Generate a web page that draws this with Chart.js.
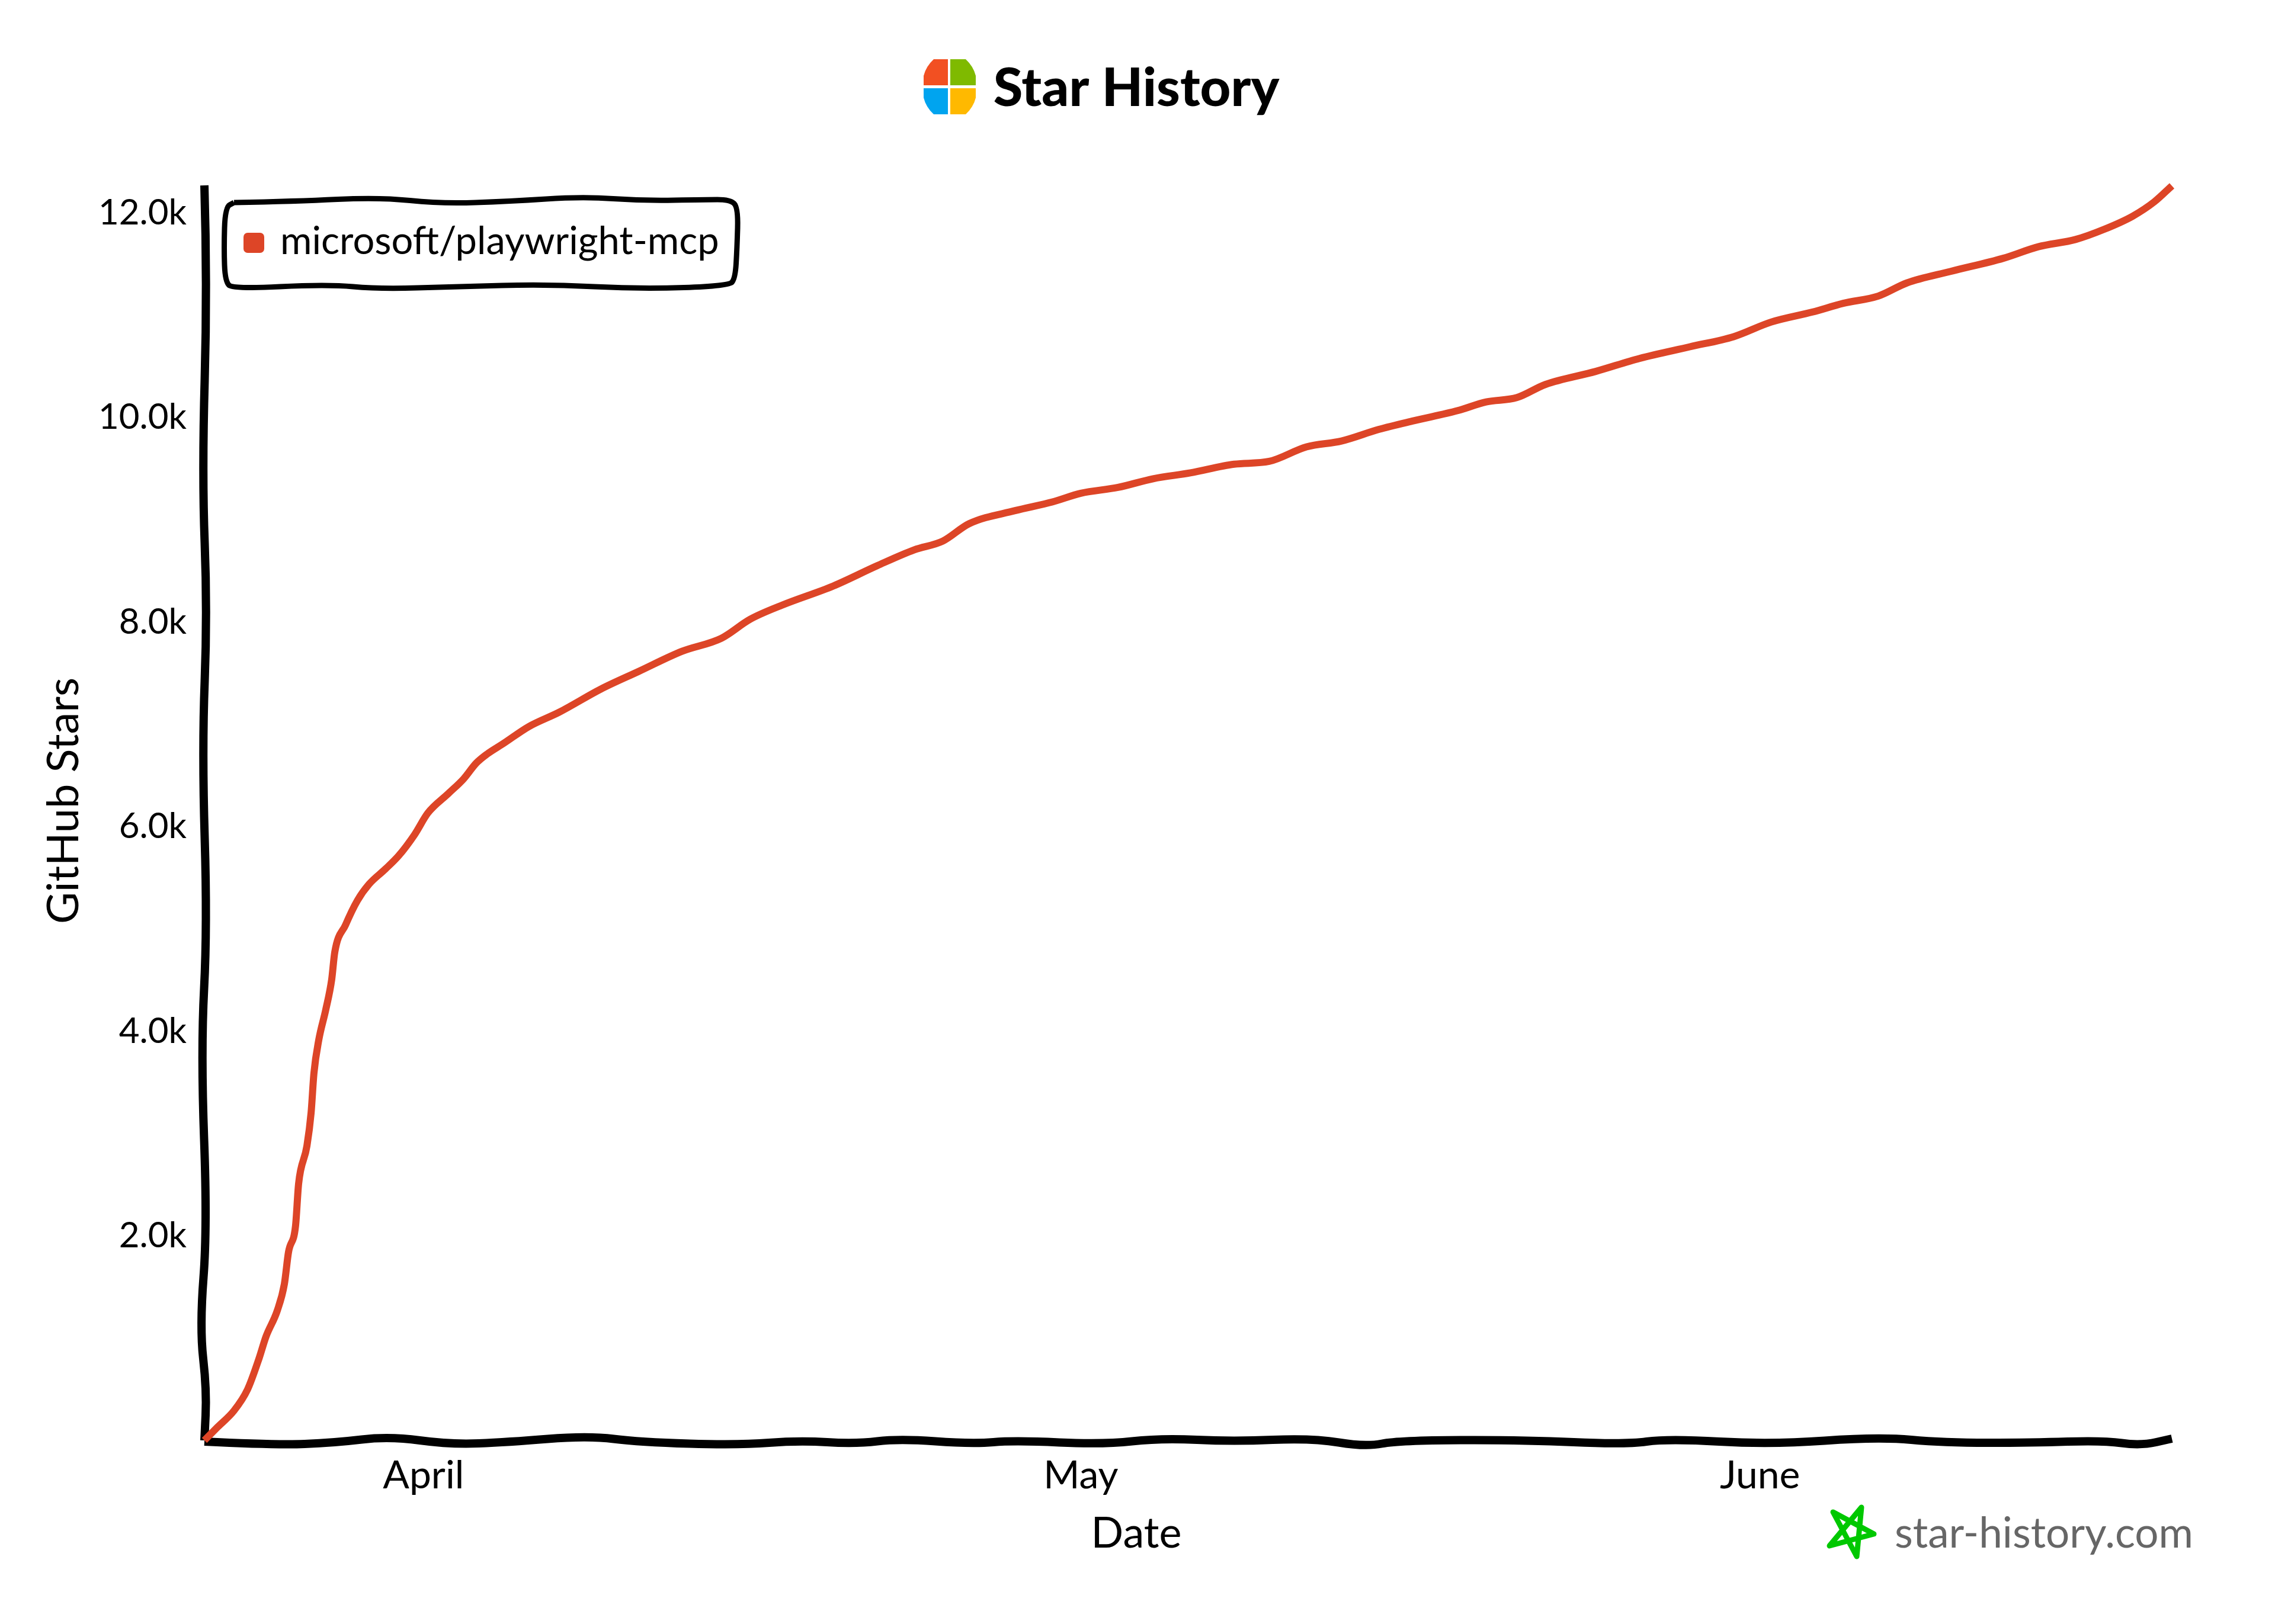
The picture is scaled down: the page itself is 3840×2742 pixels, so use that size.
<!DOCTYPE html>
<html>
<head>
<meta charset="utf-8">
<title>Star History</title>
<script src="https://cdn.jsdelivr.net/npm/chart.js@4/dist/chart.umd.min.js"></script>
<style>
  html, body { margin: 0; padding: 0; background: #fff; }
  canvas { display: block; }
</style>
</head>
<body>
<canvas id="starChart" width="3840" height="2742"></canvas>
<script>
// days since Mar 22
const days = [0, 0.6, 1.35, 1.97, 2.5, 2.81, 3.33, 3.65, 3.84, 4.16, 4.3, 4.68, 4.87, 5.0, 5.22, 5.54, 5.81, 5.95,
  6.44, 6.98, 7.52, 8.25, 8.87, 9.6, 10.2, 11.14, 11.84, 12.4, 12.9, 13.66, 14.8, 16.2, 18.1, 19.8, 21.8, 23.6, 24.9,
  26.4, 28.7, 30.7, 32.4, 33.7, 34.9, 37.0, 38.7, 40.0, 41.7, 43.3, 45.0, 47.0, 48.6, 50.3, 51.9, 53.6, 55.2, 57.2,
  58.5, 59.9, 61.2, 63.5, 65.5, 67.8, 69.8, 71.5, 73.4, 74.8, 76.4, 77.7, 79.7, 82.1, 83.7, 85.4, 86.7, 88.0, 89.0, 89.8];
const stars = [0, 130, 290, 498, 805, 1014, 1271, 1529, 1842, 2097, 2510, 2879, 3203, 3591, 3915, 4211, 4506, 4773,
  5039, 5277, 5439, 5584, 5717, 5925, 6134, 6325, 6470, 6620, 6710, 6815, 6978, 7120, 7346, 7516, 7715, 7843, 8027,
  8169, 8353, 8551, 8707, 8792, 8962, 9090, 9175, 9260, 9317, 9402, 9459, 9544, 9572, 9714, 9771, 9884, 9969, 10068,
  10153, 10195, 10323, 10451, 10578, 10692, 10791, 10933, 11032, 11117, 11188, 11316, 11429, 11557, 11670, 11741, 11840, 11968, 12110, 12266];

const seriesName = "microsoft/playwright-mcp";
const monthDays = [10, 40, 71];
const monthLabels = ["April", "May", "June"];
const starTicks = [2000, 4000, 6000, 8000, 10000, 12000];

const handFont = "Lato";
const RED = "#dd4527";

// draws a smooth wobbly path through the given points
function wobble(ctx, pts) {
    ctx.beginPath();
    ctx.moveTo(pts[0][0], pts[0][1]);
    for (let i = 1; i < pts.length - 1; i++) {
        const mx = (pts[i][0] + pts[i + 1][0]) / 2;
        const my = (pts[i][1] + pts[i + 1][1]) / 2;
        ctx.quadraticCurveTo(pts[i][0], pts[i][1], mx, my);
    }
    const last = pts[pts.length - 1];
    ctx.lineTo(last[0], last[1]);
    ctx.stroke();
}

const sketchAxes = {
    id: "sketchAxes",
    beforeDatasetsDraw(chart) {
        const ctx = chart.ctx;
        const a = chart.chartArea;
        ctx.save();
        ctx.strokeStyle = "#000";
        ctx.lineWidth = 14;
        ctx.lineCap = "butt";
        ctx.lineJoin = "round";

        const leftWiggle = [[0, 0], [.08, 5], [.23, -4], [.34, 5], [.45, -4], [.59, 5], [.69, -6], [.83, 5], [.91, -8], [.96, 4], [1, 0]];
        wobble(ctx, leftWiggle.map(p => [a.left + p[1], a.top + p[0] * (a.bottom - a.top)]));

        const baseWiggle = [[0, 2], [.036, 8], [.066, 4], [.094, -7], [.125, 7], [.154, 3], [.195, -8], [.221, 3], [.272, 8], [.302, 0],
            [.331, 6], [.353, -3], [.39, 6], [.412, 0], [.457, 7], [.486, -4], [.523, 2], [.563, -4], [.59, 11], [.607, 0],
            [.67, -1], [.722, 7], [.744, -3], [.796, 7], [.851, -6], [.884, 4], [.929, 4], [.965, 0], [.984, 9], [1, -3]];
        wobble(ctx, baseWiggle.map(p => [a.left + p[0] * (a.right - a.left), a.bottom + p[1]]));
        ctx.restore();
    }
};

const sketchExtras = {
    id: "sketchExtras",
    afterDraw(chart) {
        const ctx = chart.ctx;
        ctx.save();

        // logo
        const q = [["#f25022", 1559, 100, 41, 44], ["#7fba00", 1604, 100, 43, 44], ["#00a4ef", 1559, 149, 41, 44], ["#ffb900", 1604, 149, 43, 44]];
        ctx.beginPath();
        ctx.moveTo(1576, 100);
        ctx.lineTo(1630, 100);
        ctx.quadraticCurveTo(1643, 112, 1647, 128);
        ctx.lineTo(1647, 165);
        ctx.quadraticCurveTo(1643, 181, 1630, 193);
        ctx.lineTo(1576, 193);
        ctx.quadraticCurveTo(1563, 181, 1559, 165);
        ctx.lineTo(1559, 128);
        ctx.quadraticCurveTo(1563, 112, 1576, 100);
        ctx.clip();
        q.forEach(c => {
            ctx.fillStyle = c[0];
            ctx.fillRect(c[1], c[2], c[3], c[4]);
        });
        ctx.restore();
        ctx.save();

        // title
        ctx.fillStyle = "#000";
        ctx.textBaseline = "middle";
        ctx.textAlign = "center";
        ctx.font = "900 90px " + handFont;
        ctx.fillText("Star History", 1918, 150);

        // legend box
        ctx.strokeStyle = "#000";
        ctx.lineWidth = 9;
        ctx.lineJoin = "round";
        wobble(ctx, [[395, 342], [500, 340], [640, 333], [744, 344], [860, 340], [983, 332], [1087, 339], [1190, 337],
            [1232, 337], [1246, 350], [1244, 420], [1241, 470], [1230, 483], [1079, 488], [927, 480], [768, 484], [640, 488],
            [552, 480], [393, 488], [380, 475], [378, 420], [380, 350], [395, 342]]);
        ctx.fillStyle = RED;
        ctx.beginPath();
        ctx.roundRect(411, 393, 35, 34, 7);
        ctx.fill();
        ctx.fillStyle = "#000";
        ctx.textAlign = "left";
        ctx.font = "65px " + handFont;
        ctx.fillText(seriesName, 473, 408);

        // axis titles
        ctx.textAlign = "center";
        ctx.font = "72px " + handFont;
        ctx.fillText("Date", 1918, 2590);
        ctx.save();
        ctx.translate(108, 1352);
        ctx.rotate(-Math.PI / 2);
        ctx.font = "74px " + handFont;
        ctx.fillText("GitHub Stars", 0, 0);
        ctx.restore();

        // watermark
        ctx.strokeStyle = "#00c800";
        ctx.lineWidth = 9;
        ctx.beginPath();
        ctx.moveTo(3142, 2545);
        ctx.lineTo(3134, 2628);
        ctx.lineTo(3094, 2553);
        ctx.lineTo(3163, 2590);
        ctx.lineTo(3088, 2610);
        ctx.closePath();
        ctx.stroke();
        ctx.fillStyle = "#666";
        ctx.textAlign = "left";
        ctx.font = "71px " + handFont;
        ctx.fillText("star-history.com", 3198, 2590);
        ctx.restore();
    }
};

new Chart(document.getElementById("starChart"), {
    type: "line",
    data: {
        datasets: [{
            label: seriesName,
            data: days.map((d, i) => ({ x: d, y: stars[i] })),
            borderColor: RED,
            backgroundColor: RED,
            borderWidth: 12,
            borderCapStyle: "butt",
            pointRadius: 0,
            cubicInterpolationMode: "monotone",
            clip: false
        }]
    },
    options: {
        responsive: false,
        animation: false,
        devicePixelRatio: 1,
        layout: { padding: { top: 313, right: 174 } },
        plugins: {
            legend: { display: false },
            tooltip: { enabled: false }
        },
        scales: {
            x: {
                type: "linear",
                min: 0,
                max: 89.8,
                grid: { display: false },
                border: { display: false },
                afterFit(scale) { scale.height = 310; },
                afterBuildTicks(scale) { scale.ticks = monthDays.map(v => ({ value: v })); },
                ticks: {
                    color: "#000",
                    font: { family: handFont, size: 66 },
                    padding: 12,
                    maxRotation: 0,
                    autoSkip: false,
                    callback: v => monthLabels[monthDays.indexOf(v)]
                }
            },
            y: {
                min: 0,
                max: 12270,
                grid: { display: false },
                border: { display: false },
                afterFit(scale) { scale.width = 345; },
                afterBuildTicks(scale) { scale.ticks = starTicks.map(v => ({ value: v })); },
                ticks: {
                    color: "#000",
                    font: { family: handFont, size: 60 },
                    padding: 22,
                    autoSkip: false,
                    callback: v => (v / 1000).toFixed(1) + "k"
                }
            }
        }
    },
    plugins: [sketchAxes, sketchExtras]
});
</script>
</body>
</html>
